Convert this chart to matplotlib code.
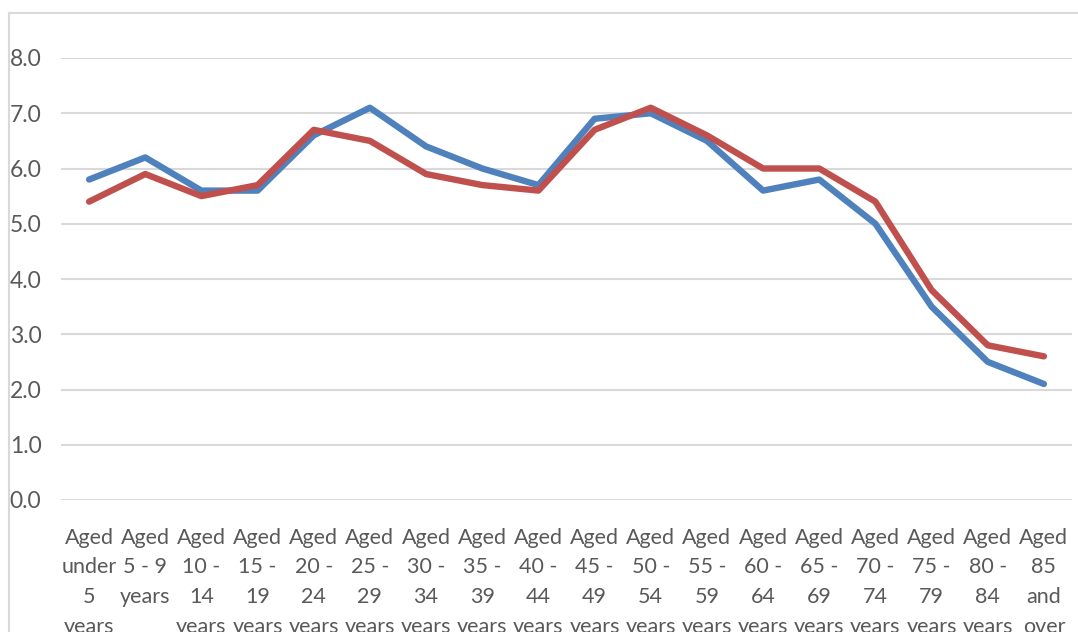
import matplotlib.pyplot as plt
from matplotlib.lines import Line2D

plt.rcParams['font.family'] = ['Lato', 'DejaVu Sans']

# age groups, wrapped the way the original chart wraps them
labels = ["Aged\nunder\n5\nyears", "Aged\n5 - 9\nyears", "Aged\n10 -\n14\nyears", "Aged\n15 -\n19\nyears",
          "Aged\n20 -\n24\nyears", "Aged\n25 -\n29\nyears", "Aged\n30 -\n34\nyears", "Aged\n35 -\n39\nyears",
          "Aged\n40 -\n44\nyears", "Aged\n45 -\n49\nyears", "Aged\n50 -\n54\nyears", "Aged\n55 -\n59\nyears",
          "Aged\n60 -\n64\nyears", "Aged\n65 -\n69\nyears", "Aged\n70 -\n74\nyears", "Aged\n75 -\n79\nyears",
          "Aged\n80 -\n84\nyears", "Aged\n85\nand\nover"]
blue_vals = [5.8, 6.2, 5.6, 5.6, 6.6, 7.1, 6.4, 6.0, 5.7, 6.9, 7.0, 6.5, 5.6, 5.8, 5.0, 3.5, 2.5, 2.1]
red_vals = [5.4, 5.9, 5.5, 5.7, 6.7, 6.5, 5.9, 5.7, 5.6, 6.7, 7.1, 6.6, 6.0, 6.0, 5.4, 3.8, 2.8, 2.6]
yticks = [0, 1, 2, 3, 4, 5, 6, 7, 8]

W, H = 1078, 632
fig = plt.figure(figsize=(W / 100, H / 100), dpi=100)
# plot area in pixels: x 61..1072, y(8.0)=58, y(0.0)=500
ax = fig.add_axes([61 / W, (H - 500) / H, (1072 - 61) / W, (500 - 58) / H])

x = list(range(len(labels)))
ax.plot(x, blue_vals, color='#4f81bd', lw=4.6, solid_capstyle='round', solid_joinstyle='round')
ax.plot(x, red_vals, color='#c0504d', lw=4.6, solid_capstyle='round', solid_joinstyle='round')

ax.set_xlim(-0.5, len(labels) - 0.5)
ax.set_ylim(0, 8)
ax.set_yticks(yticks, [f"{v:.1f}" for v in yticks])
ax.set_xticks(x, labels)
ax.yaxis.grid(True, color='#d9d9d9', lw=1.5)
ax.set_axisbelow(True)
for s in ax.spines.values():
    s.set_visible(False)

ax.tick_params(axis='both', length=0, colors='#595959')
ax.tick_params(axis='y', pad=37, labelsize=16.5)
ax.tick_params(axis='x', pad=20, labelsize=15.5)
for t in ax.get_yticklabels():
    t.set_horizontalalignment('left')
for t in ax.get_xticklabels():
    t.set_linespacing(1.6)

# chart area border (cropped on the right and bottom)
fig.add_artist(Line2D([9 / W, 9 / W], [0, 1 - 13 / H], color='#d9d9d9', lw=1.5))
fig.add_artist(Line2D([9 / W, 1], [1 - 13 / H, 1 - 13 / H], color='#d9d9d9', lw=1.5))

fig.savefig("out.png", dpi=100)
